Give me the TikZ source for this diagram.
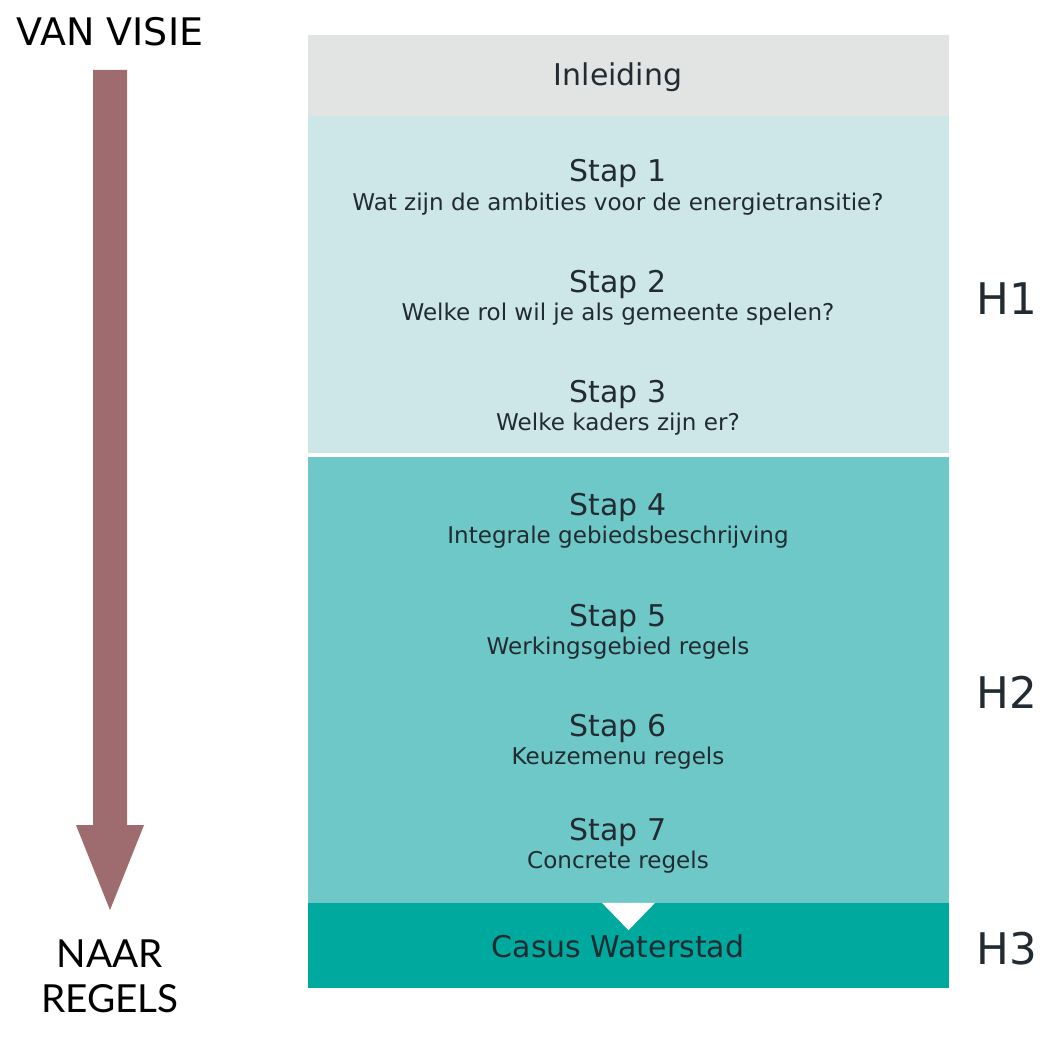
\documentclass[tikz,border=0pt]{standalone}
\usepackage{fontspec}
\setmainfont{DejaVu Sans}
\newfontfamily\latofont{Lato}
\usetikzlibrary{positioning}

\definecolor{introgrey}{HTML}{E2E3E3}
\definecolor{hlight}{HTML}{CDE7E8}
\definecolor{hmid}{HTML}{6FC8C8}
\definecolor{hdark}{HTML}{00A99D}
\definecolor{arrowred}{HTML}{9E6B6E}
\definecolor{inkdark}{HTML}{222B31}

\tikzset{
	band/.style={minimum width=16.025cm, inner sep=0pt, outer sep=0pt, text=inkdark},
	staptitle/.style={text=inkdark, inner sep=0pt, anchor=base, font=\fontsize{21.3}{26}\selectfont},
	stapsub/.style={text=inkdark, inner sep=0pt, anchor=base, font=\fontsize{16.4}{20}\selectfont},
	chapter/.style={text=inkdark, inner sep=0pt, anchor=base, font=\fontsize{31}{36}\selectfont},
	sidelabel/.style={text=black, inner sep=0pt, anchor=base, font=\fontsize{27}{32}\selectfont},
}

\begin{document}
\begin{tikzpicture}[x=0.025cm, y=-0.025cm]
	\useasboundingbox (0,0) rectangle (1051,1037);
	\fill[white] (0,0) rectangle (1051,1037);

	% coloured bands
	\node[band, fill=introgrey, minimum height=2.025cm] (inleidingband) at (628.5,75.5) {};
	\node[band, fill=hlight, minimum height=8.425cm] (h1band) at (628.5,284.5) {};
	\node[band, fill=hmid, minimum height=11.15cm] (h2band) at (628.5,680) {};
	\node[band, fill=hdark, minimum height=2.125cm] (h3band) at (628.5,945.5) {};
	\fill[white] ([xshift=-0.66cm]h3band.north) -- ([xshift=0.66cm]h3band.north) -- ([yshift=-0.68cm]h3band.north) -- cycle;

	\node[staptitle] (inleiding) at (618,86) {Inleiding};
	\node[staptitle] (casus) at (618,957) {Casus Waterstad};

	% stappen
	\foreach \y/\sub [count=\i] in {182/Wat zijn de ambities voor de energietransitie?,
		292/Welke rol wil je als gemeente spelen?,
		402/Welke kaders zijn er?,
		515/Integrale gebiedsbeschrijving,
		626/Werkingsgebied regels,
		736/Keuzemenu regels,
		840/Concrete regels} {
		\node[staptitle] (stap\i) at (618,\y) {Stap \i};
		\node[stapsub, below=0.71cm of stap\i.base, anchor=base] (sub\i) {\sub};
	}

	\node[chapter] (h1) at (1007,314) {H1};
	\node[chapter] (h2) at (1007,708) {H2};
	\node[chapter] (h3) at (1007,964) {H3};

	% visie naar regels
	\node[sidelabel] (vanvisie) at (110,46) {VAN VISIE};
	\node[sidelabel, font=\latofont\fontsize{27.5}{32}\selectfont] (naar) at (110,967) {NAAR};
	\node[sidelabel, font=\latofont\fontsize{27.5}{32}\selectfont] (regels) at (110,1012) {REGELS};
	\fill[arrowred] (93,70) -- (127,70) -- (127,825) -- (144,825) -- (110,910) -- (76,825) -- (93,825) -- cycle;
\end{tikzpicture}
\end{document}
